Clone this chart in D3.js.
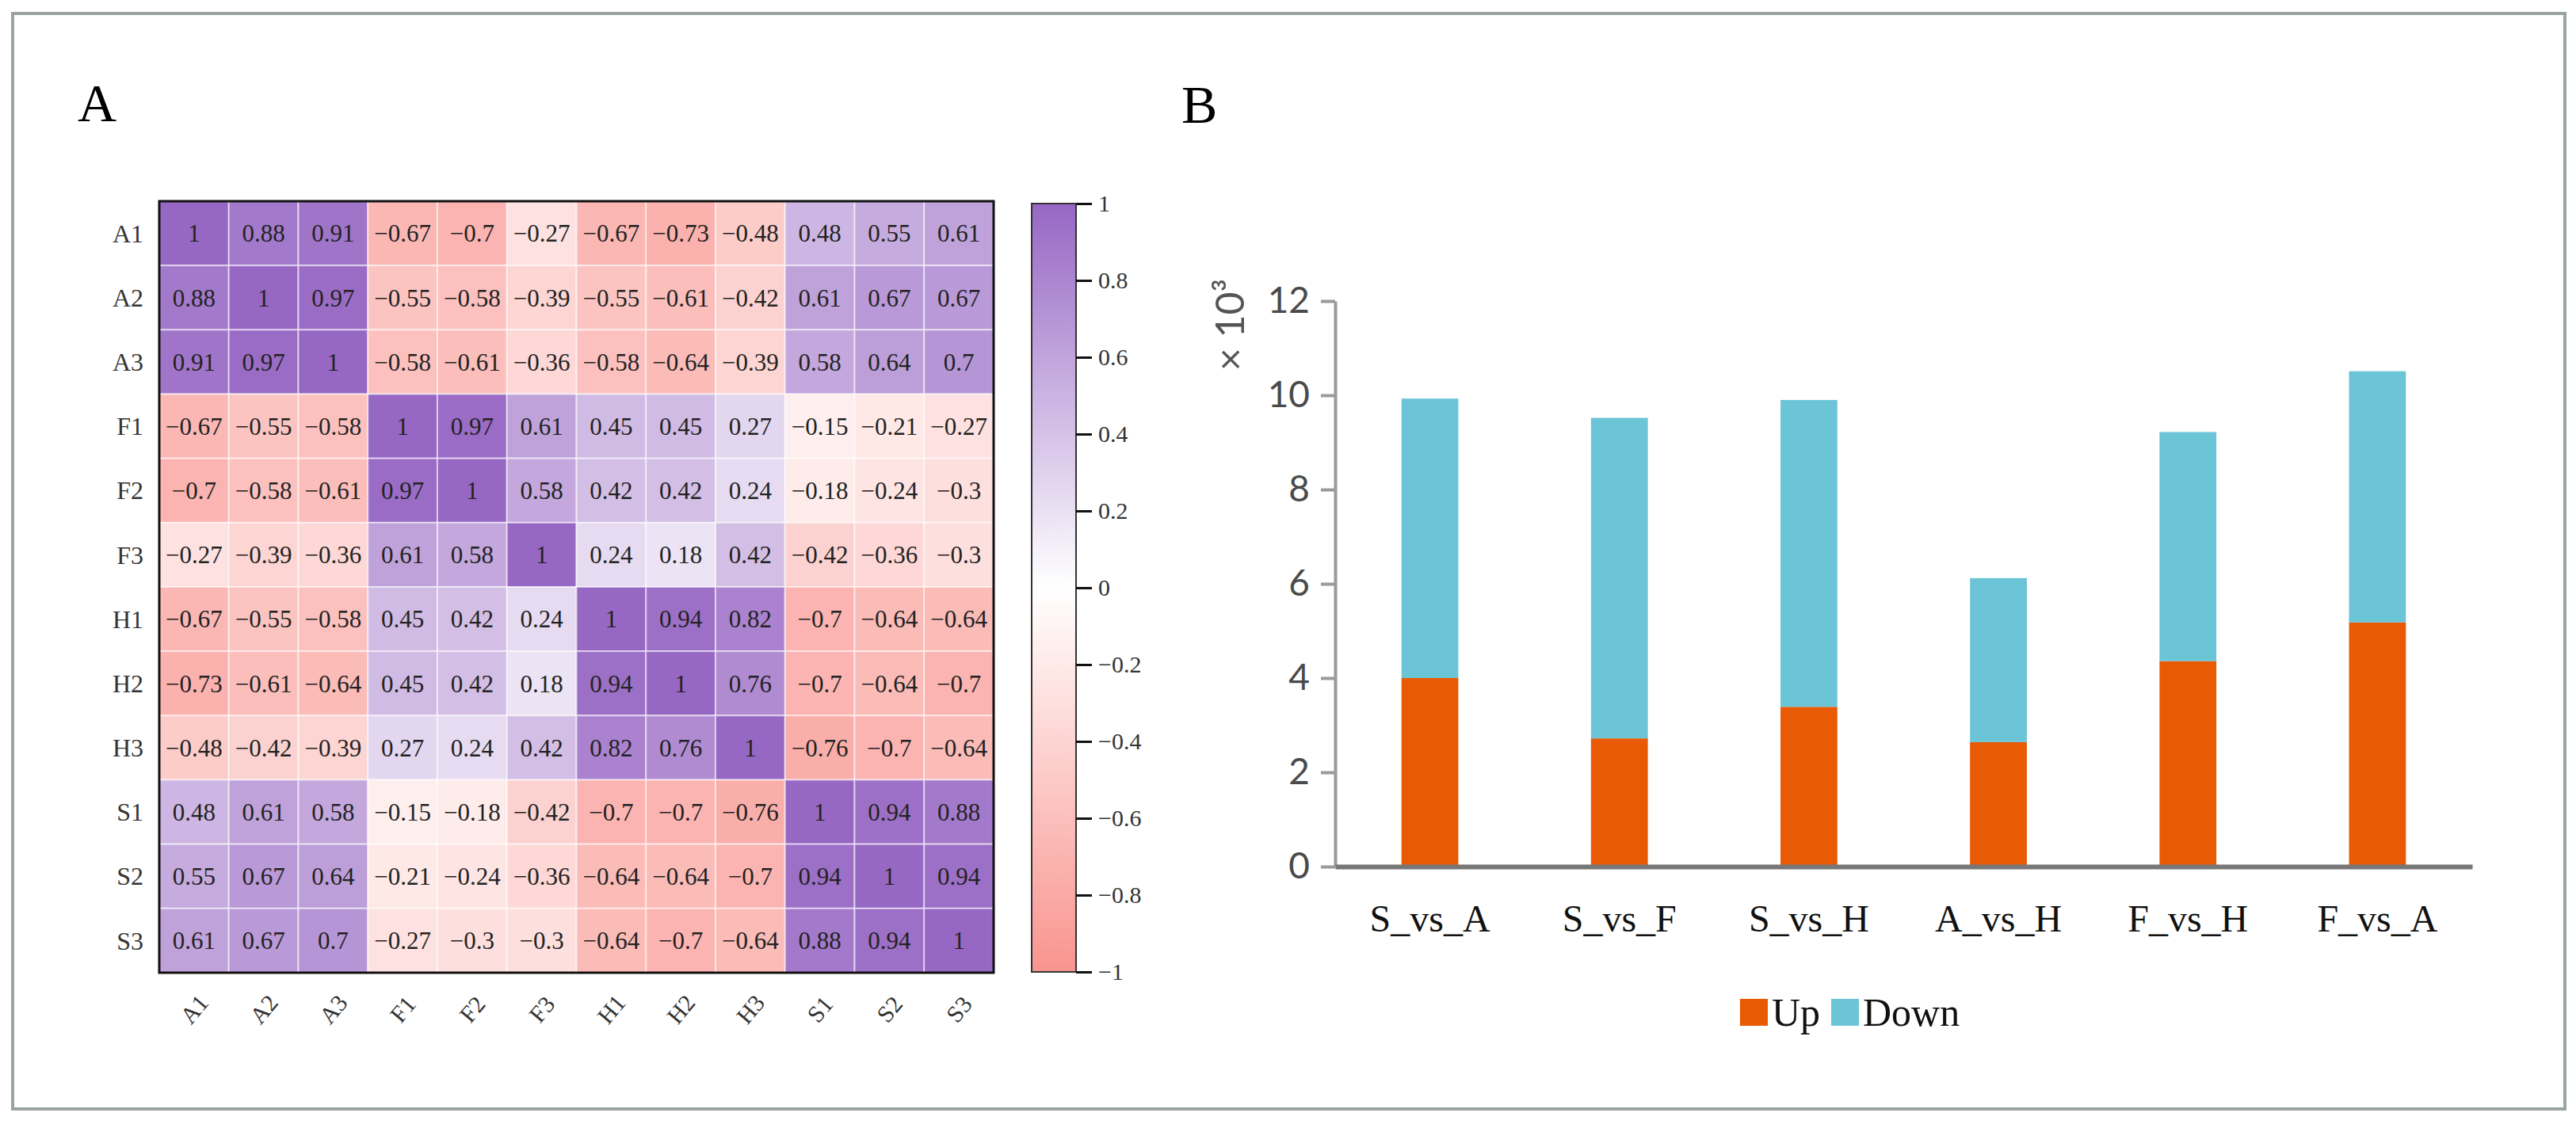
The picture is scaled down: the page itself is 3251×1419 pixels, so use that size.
<!DOCTYPE html>
<html lang="en">
    <head>
        <meta charset="utf-8">
        <title>Correlation heatmap and DEG counts</title>
        <script src="https://d3js.org/d3.v7.min.js"></script>
        <style type="text/css">
            body { margin: 0; background: #fff; }
            .serif { font-family: "Liberation Serif", "Times New Roman", serif; }
            .sans { font-family: Lato, "Open Sans", sans-serif; }
        </style>
    </head>
    <body>
        <svg width="3251" height="1419"></svg>
        <script type="text/javascript">

            // panel A data
            const samples = ["A1", "A2", "A3", "F1", "F2", "F3", "H1", "H2", "H3", "S1", "S2", "S3"];
            const corrA1 = [1, 0.88, 0.91, -0.67, -0.7, -0.27, -0.67, -0.73, -0.48, 0.48, 0.55, 0.61];
            const corrA2 = [0.88, 1, 0.97, -0.55, -0.58, -0.39, -0.55, -0.61, -0.42, 0.61, 0.67, 0.67];
            const corrA3 = [0.91, 0.97, 1, -0.58, -0.61, -0.36, -0.58, -0.64, -0.39, 0.58, 0.64, 0.7];
            const corrF1 = [-0.67, -0.55, -0.58, 1, 0.97, 0.61, 0.45, 0.45, 0.27, -0.15, -0.21, -0.27];
            const corrF2 = [-0.7, -0.58, -0.61, 0.97, 1, 0.58, 0.42, 0.42, 0.24, -0.18, -0.24, -0.3];
            const corrF3 = [-0.27, -0.39, -0.36, 0.61, 0.58, 1, 0.24, 0.18, 0.42, -0.42, -0.36, -0.3];
            const corrH1 = [-0.67, -0.55, -0.58, 0.45, 0.42, 0.24, 1, 0.94, 0.82, -0.7, -0.64, -0.64];
            const corrH2 = [-0.73, -0.61, -0.64, 0.45, 0.42, 0.18, 0.94, 1, 0.76, -0.7, -0.64, -0.7];
            const corrH3 = [-0.48, -0.42, -0.39, 0.27, 0.24, 0.42, 0.82, 0.76, 1, -0.76, -0.7, -0.64];
            const corrS1 = [0.48, 0.61, 0.58, -0.15, -0.18, -0.42, -0.7, -0.7, -0.76, 1, 0.94, 0.88];
            const corrS2 = [0.55, 0.67, 0.64, -0.21, -0.24, -0.36, -0.64, -0.64, -0.7, 0.94, 1, 0.94];
            const corrS3 = [0.61, 0.67, 0.7, -0.27, -0.3, -0.3, -0.64, -0.7, -0.64, 0.88, 0.94, 1];
            const colorbarTicks = [1, 0.8, 0.6, 0.4, 0.2, 0, -0.2, -0.4, -0.6, -0.8, -1];

            // panel B data (x 10^3)
            const comparisons = ["S_vs_A", "S_vs_F", "S_vs_H", "A_vs_H", "F_vs_H", "F_vs_A"];
            const upCounts = [4.0, 2.72, 3.39, 2.64, 4.36, 5.18];
            const downCounts = [5.93, 6.8, 6.51, 3.48, 4.86, 5.33];
            const yTicks = [0, 2, 4, 6, 8, 10, 12];

            const svg = d3.select("svg");

            // outer frame
            svg.append("rect")
               .attr("x", 16).attr("y", 17)
               .attr("width", 3221).attr("height", 1383)
               .attr("fill", "none")
               .attr("stroke", "#9aa4a3")
               .attr("stroke-width", 4);

            svg.append("text").attr("class", "serif")
               .attr("x", 98).attr("y", 153)
               .style("font-size", "68px").text("A");
            svg.append("text").attr("class", "serif")
               .attr("x", 1491).attr("y", 155)
               .style("font-size", "68px").text("B");

            // ---------- heatmap ----------
            const matrix = [corrA1, corrA2, corrA3, corrF1, corrF2, corrF3,
                            corrH1, corrH2, corrH3, corrS1, corrS2, corrS3];

            const xHeat = d3.scaleBand().domain(samples).range([201, 1254]);
            const yHeat = d3.scaleBand().domain(samples).range([254, 1228]);
            const heatColor = d3.scaleLinear()
                                .domain([-1, 0, 1])
                                .range(["#f9948f", "#ffffff", "#9767c4"]);

            const cells = [];
            matrix.forEach((row, i) => row.forEach((v, j) => {
                cells.push({row: samples[i], col: samples[j], value: v});
            }));

            const heat = svg.append("g");
            heat.selectAll("rect")
                .data(cells)
                .enter()
                .append("rect")
                .attr("x", d => xHeat(d.col))
                .attr("y", d => yHeat(d.row))
                .attr("width", xHeat.bandwidth())
                .attr("height", yHeat.bandwidth())
                .attr("fill", d => heatColor(d.value))
                .attr("stroke", "rgba(255,255,255,0.55)")
                .attr("stroke-width", 2);

            heat.selectAll("text")
                .data(cells)
                .enter()
                .append("text")
                .attr("class", "serif")
                .attr("x", d => xHeat(d.col) + xHeat.bandwidth() / 2)
                .attr("y", d => yHeat(d.row) + yHeat.bandwidth() / 2)
                .attr("text-anchor", "middle")
                .attr("dy", "0.35em")
                .style("font-size", "31px")
                .style("fill", "#222")
                .text(d => d3.format("~g")(d.value));

            heat.append("rect")
                .attr("x", 201).attr("y", 254)
                .attr("width", 1053).attr("height", 974)
                .attr("fill", "none")
                .attr("stroke", "#111")
                .attr("stroke-width", 3);

            // row labels
            svg.append("g").selectAll("text")
               .data(samples)
               .enter()
               .append("text")
               .attr("class", "serif")
               .attr("x", 181)
               .attr("y", d => yHeat(d) + yHeat.bandwidth() / 2)
               .attr("dy", "0.35em")
               .attr("text-anchor", "end")
               .style("font-size", "32px")
               .style("fill", "#333")
               .text(d => d);

            // column labels, rotated
            svg.append("g").selectAll("text")
               .data(samples)
               .enter()
               .append("text")
               .attr("class", "serif")
               .attr("transform", d => `translate(${xHeat(d) + xHeat.bandwidth() / 2},1274) rotate(-50)`)
               .attr("text-anchor", "middle")
               .attr("dy", "0.35em")
               .style("font-size", "30px")
               .style("fill", "#333")
               .text(d => d);

            // colour bar
            const barScale = d3.scaleLinear().domain([-1, 1]).range([1227, 257]);
            const grad = svg.append("defs").append("linearGradient")
                            .attr("id", "cbar")
                            .attr("x1", 0).attr("y1", 1).attr("x2", 0).attr("y2", 0);
            grad.selectAll("stop")
                .data([-1, -0.5, 0, 0.5, 1])
                .enter()
                .append("stop")
                .attr("offset", d => (d + 1) / 2)
                .attr("stop-color", d => heatColor(d));

            svg.append("rect")
               .attr("x", 1302).attr("y", 257)
               .attr("width", 56).attr("height", 970)
               .attr("fill", "url(#cbar)")
               .attr("stroke", "#333")
               .attr("stroke-width", 2);

            const cAxis = svg.append("g")
                             .attr("transform", "translate(1358,0)")
                             .call(d3.axisRight(barScale)
                                     .tickValues(colorbarTicks)
                                     .tickSize(20)
                                     .tickPadding(8)
                                     .tickFormat(d3.format("~g")));
            cAxis.select(".domain").remove();
            cAxis.selectAll("line").attr("stroke", "#111").attr("stroke-width", 3);
            cAxis.selectAll("text")
                 .attr("class", "serif")
                 .style("font-size", "30px")
                 .style("fill", "#333");

            // ---------- stacked bars ----------
            const xBar = d3.scaleBand()
                           .domain(comparisons)
                           .range([1685, 3120])
                           .paddingInner(0.7)
                           .paddingOuter(0.35);
            const yBar = d3.scaleLinear().domain([0, 12]).range([1094, 380]);

            const rows = comparisons.map((c, i) => ({name: c, Up: upCounts[i], Down: downCounts[i]}));
            const series = d3.stack().keys(["Up", "Down"])(rows);
            const barColor = d3.scaleOrdinal().domain(["Up", "Down"]).range(["#e95a05", "#6cc4d7"]);

            svg.append("g").selectAll("g")
               .data(series)
               .enter()
               .append("g")
               .attr("fill", d => barColor(d.key))
               .selectAll("rect")
               .data(d => d)
               .enter()
               .append("rect")
               .attr("x", d => xBar(d.data.name))
               .attr("y", d => yBar(d[1]))
               .attr("width", xBar.bandwidth())
               .attr("height", d => yBar(d[0]) - yBar(d[1]));

            // y axis
            const yAxis = svg.append("g")
                             .attr("transform", "translate(1685,0)")
                             .call(d3.axisLeft(yBar)
                                     .tickValues(yTicks)
                                     .tickSize(18)
                                     .tickSizeOuter(0)
                                     .tickPadding(14));
            yAxis.select(".domain").attr("stroke", "#9a9a9a").attr("stroke-width", 4);
            yAxis.selectAll("line").attr("stroke", "#9a9a9a").attr("stroke-width", 4);
            yAxis.selectAll("text")
                 .attr("class", "sans")
                 .style("font-size", "46px")
                 .style("fill", "#4a4a4a");

            // x axis
            const xAxis = svg.append("g")
                             .attr("transform", "translate(0,1094)")
                             .call(d3.axisBottom(xBar).tickSize(0).tickSizeOuter(0).tickPadding(48));
            xAxis.select(".domain").attr("stroke", "#777").attr("stroke-width", 6);
            xAxis.selectAll("text")
                 .attr("class", "serif")
                 .style("font-size", "48px")
                 .style("fill", "#111");

            svg.append("text")
               .attr("class", "sans")
               .attr("transform", "translate(1570,410) rotate(-90)")
               .attr("text-anchor", "middle")
               .style("font-size", "50px")
               .style("fill", "#555")
               .text("× 10³");

            // legend
            const legendItems = [{key: "Up", x: 2196}, {key: "Down", x: 2311}];
            const legend = svg.append("g").selectAll("g")
                              .data(legendItems)
                              .enter()
                              .append("g")
                              .attr("transform", d => `translate(${d.x},1261)`);
            legend.append("rect")
                  .attr("width", 35).attr("height", 34)
                  .attr("fill", d => barColor(d.key));
            legend.append("text")
                  .attr("class", "serif")
                  .attr("x", 40).attr("y", 34)
                  .style("font-size", "50px")
                  .style("fill", "#111")
                  .text(d => d.key);

        </script>
    </body>
</html>
